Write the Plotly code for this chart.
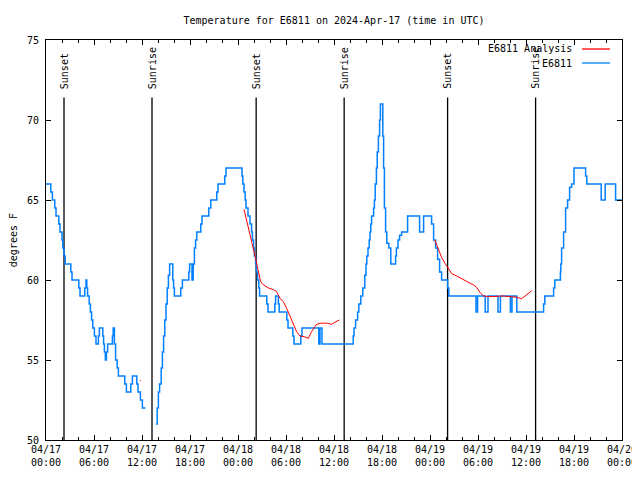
import plotly.graph_objects as go
import pandas as pd

base = pd.Timestamp("2024-04-17 00:00")

# Observed temperature (E6811): hours since 04/17 00:00 UTC, degrees F (step-wise)
obs_hours = [
    0.0, 0.6, 0.8, 1.1, 1.25, 1.6, 1.75, 2.0, 2.1, 2.25, 2.4, 3.1, 3.25, 4.1, 4.25,
    4.85, 5.0, 5.1, 5.2, 5.4, 5.55, 5.7, 5.85, 6.05, 6.25, 6.55, 6.67, 7.1, 7.2, 7.3,
    7.42, 7.55, 7.7, 8.3, 8.4, 8.55, 8.7, 8.9, 9.05, 9.85, 10.05, 10.6, 10.8, 11.35,
    11.5, 11.8, 12.05, 12.42, 12.5,
    13.75, 13.9, 14.05, 14.2, 14.4, 14.55, 14.7, 14.85, 15.0, 15.15, 15.3, 15.45,
    15.85, 15.95, 16.05, 16.85, 17.05, 17.85, 17.95, 18.25, 18.4, 18.55, 18.7, 18.85,
    19.35, 19.5, 20.35, 20.6, 21.35, 21.5, 22.35, 22.5,
    24.5, 24.6, 24.75, 24.9, 25.0, 25.25, 25.5, 25.7, 25.8, 25.95, 26.05, 26.2, 26.3,
    26.45, 26.6, 26.7, 27.6, 27.75, 28.6, 28.7, 29.05, 29.15, 30.1, 30.25, 30.85,
    31.0, 31.85, 32.0, 34.1, 34.25, 34.5,
    38.4, 38.5, 38.7, 38.95, 39.1, 39.35, 39.6, 39.85, 40.0, 40.1, 40.25, 40.4, 40.5,
    40.6, 40.7, 40.95, 41.05, 41.15, 41.3, 41.4, 41.55, 41.7, 41.8, 42.1, 42.2, 42.3,
    42.45, 42.6, 42.85, 43.1, 43.7, 43.8, 44.0, 44.2, 44.45, 45.2, 46.7, 47.2, 48.2,
    48.45, 48.7, 48.95, 49.2, 49.45, 50.2, 50.35,
    53.75, 53.95, 54.9, 55.25, 56.5, 56.8, 58.05, 58.25, 58.85,
    62.2, 62.35, 63.45, 63.6, 64.3, 64.35, 64.45, 64.7, 64.95, 65.2, 65.45, 65.7,
    66.0, 67.45, 67.6, 69.4, 69.9, 71.2, 72.0,
]
obs_temps = [
    66, 65.5, 65, 64.5, 64, 63.5, 63, 62.5, 62, 61.5, 61, 60.5, 60, 59.5, 59,
    59.5, 60, 59.5, 59, 58.5, 58, 57.5, 57, 56.5, 56, 56.5, 57, 56.5, 56, 55.5,
    55, 55.5, 56, 56.5, 57, 56, 55, 54.5, 54, 53.5, 53, 53.5, 54, 53.5,
    53, 52.5, 52, 52, None,
    51, 52, 53, 53.5, 54.5, 55.5, 56.5, 57.5, 58.5, 59.5, 60.3, 61,
    60, 59.5, 59, 59.5, 60, 60.5, 61, 60, 61, 62, 62.5, 63,
    63.5, 64, 64.5, 65, 65.5, 66, 66.5, 67,
    66.5, 66, 65.5, 65, 64.5, 64, 63.5, 63, 62.5, 62, 61.5, 61, 60.5,
    60, 59.5, 59, 58.5, 58, 58.5, 59, 58.5, 58, 57.5, 57, 56.5,
    56, 56.5, 57, 56, 57, 56,
    56.5, 57, 57.5, 58, 58.5, 59, 59.5, 60.3, 61, 61.5, 62, 62.5, 63,
    63.5, 64, 64.5, 65, 66, 67, 68, 69, 70, 71, 69, 67, 64.5,
    63, 62.3, 62, 61, 61.5, 62, 62.5, 62.8, 63, 64, 63, 64, 63.5,
    62.5, 62, 61.3, 60.5, 60, 59.5, 59,
    58, 59, 58, 59, 58, 59, 58, 59, 58,
    58.5, 59, 59.5, 60, 60.5, 61, 62, 63, 64.5, 65, 65.8, 66,
    67, 66.5, 66, 65, 66, 65, 65,
]

# Analysis (E6811 Analysis)
ana_hours = [
    11.75, 11.85, 11.9,
    24.75, 25.08, 25.5, 25.92, 26.25, 26.42, 26.67, 26.83, 27.17, 27.8, 28.42, 28.83,
    29.25, 29.67, 30.08, 30.5, 30.92, 31.33, 31.75, 32.25, 32.79, 33.2, 33.75, 34.25,
    35.17, 35.7, 36.25, 36.67, 36.7,
    48.6, 49.04, 49.46, 49.88, 50.29, 50.71, 51.33, 51.96, 52.58, 53.0, 53.42, 53.83,
    54.25, 54.67, 55.5, 56.33, 57.17, 58.0, 58.83, 59.46, 60.08, 60.71,
]
ana_temps = [
    53.75, 53.7, None,
    64.42, 63.75, 62.8, 61.9, 61.25, 60.83, 60.2, 59.9, 59.7, 59.5, 59.4, 59.27,
    58.85, 58.65, 58.23, 57.7, 57.2, 56.77, 56.5, 56.46, 56.35, 56.77, 57.2, 57.3,
    57.3, 57.23, 57.4, 57.5, None,
    62.5, 61.98, 61.4, 61.04, 60.73, 60.4, 60.25, 60.06, 59.9, 59.8, 59.7, 59.54,
    59.23, 59.0, 58.96, 59.0, 59.0, 58.96, 58.92, 58.83, 59.1, 59.33,
]

event_hours = [2.25, 13.25, 26.27, 37.27, 50.2, 61.2]
event_labels = ["Sunset", "Sunrise", "Sunset", "Sunrise", "Sunset", "Sunrise"]

title_text = "Temperature for E6811 on 2024-Apr-17 (time in UTC)"
series_names = ["E6811 Analysis", "E6811"]
series_colors = ["#ff0000", "#0080ff"]

FONT = "DejaVu Sans Mono"
W, H = 640, 480  # page body adds an 8px offset; margins compensate

def to_time(hours):
    return [base + pd.Timedelta(hours=h) for h in hours]

fig = go.Figure()

# vertical sunrise / sunset lines
line_x, line_y = [], []
for h in event_hours:
    t = base + pd.Timedelta(hours=h)
    line_x += [t, t, None]
    line_y += [50, 71.4, None]
fig.add_trace(go.Scatter(x=line_x, y=line_y, mode="lines",
                         line=dict(color="black", width=1.3),
                         showlegend=False, hoverinfo="skip"))

fig.add_trace(go.Scatter(x=to_time(obs_hours), y=obs_temps, mode="lines",
                         line=dict(color=series_colors[1], width=1.5, shape="hv"),
                         name=series_names[1], showlegend=False, connectgaps=False))
fig.add_trace(go.Scatter(x=to_time(ana_hours), y=ana_temps, mode="lines",
                         line=dict(color=series_colors[0], width=1),
                         name=series_names[0], showlegend=False, connectgaps=False))

annotations = []
for h, lab in zip(event_hours, event_labels):
    annotations.append(dict(x=base + pd.Timedelta(hours=h), y=71.8, xref="x", yref="y",
                            text=lab, textangle=-90, showarrow=False,
                            xanchor="center", yanchor="bottom",
                            font=dict(family=FONT, size=10, color="black")))

# legend (gnuplot style: text left of sample)
leg_rows = [0.9775, 0.9425]
for name, color, yy in zip(series_names, series_colors, leg_rows):
    annotations.append(dict(x=0.917, y=yy, xref="paper", yref="paper", text=name,
                            showarrow=False, xanchor="right", yanchor="middle",
                            font=dict(family=FONT, size=10, color="black")))

annotations.append(dict(x=-0.057, y=0.5, xref="paper", yref="paper", text="degrees F",
                        textangle=-90, showarrow=False, xanchor="center", yanchor="middle",
                        font=dict(family=FONT, size=10, color="black")))

shapes = []
for color, yy in zip(series_colors, leg_rows):
    shapes.append(dict(type="line", xref="paper", yref="paper", x0=0.9306, x1=0.9792,
                       y0=yy, y1=yy, line=dict(color=color, width=1.3)))

fig.update_layout(
    width=W, height=H,
    margin=dict(l=38, r=26, t=32, b=48),
    paper_bgcolor="white", plot_bgcolor="white",
    font=dict(family=FONT, size=10, color="black"),
    title=dict(text=title_text, x=0.5, xref="paper", y=1 - 12 / H, yref="container",
               xanchor="center", yanchor="middle",
               font=dict(family=FONT, size=10, color="black")),
    annotations=annotations,
    shapes=shapes,
    showlegend=False,
)

fig.update_xaxes(
    type="date",
    range=[base, base + pd.Timedelta(hours=72)],
    tick0=base, dtick=6 * 3600 * 1000,
    tickformat="%m/%d<br>%H:%M",
    ticks="inside", ticklen=5, tickcolor="black", tickwidth=1,
    minor=dict(dtick=2 * 3600 * 1000, ticks="inside", ticklen=3, tickcolor="black", showgrid=False),
    showline=True, linecolor="black", linewidth=1, mirror="ticks",
    showgrid=False, zeroline=False, automargin=False,
    tickfont=dict(family=FONT, size=10, color="black"),
)
fig.update_yaxes(
    range=[50, 75], dtick=5, tick0=50,
    ticks="inside", ticklen=5, tickcolor="black", tickwidth=1,
    showline=True, linecolor="black", linewidth=1, mirror="ticks",
    showgrid=False, zeroline=False, automargin=False,
    tickfont=dict(family=FONT, size=10, color="black"),
    ticklabelstandoff=4,
)

fig.write_html("out.html")
